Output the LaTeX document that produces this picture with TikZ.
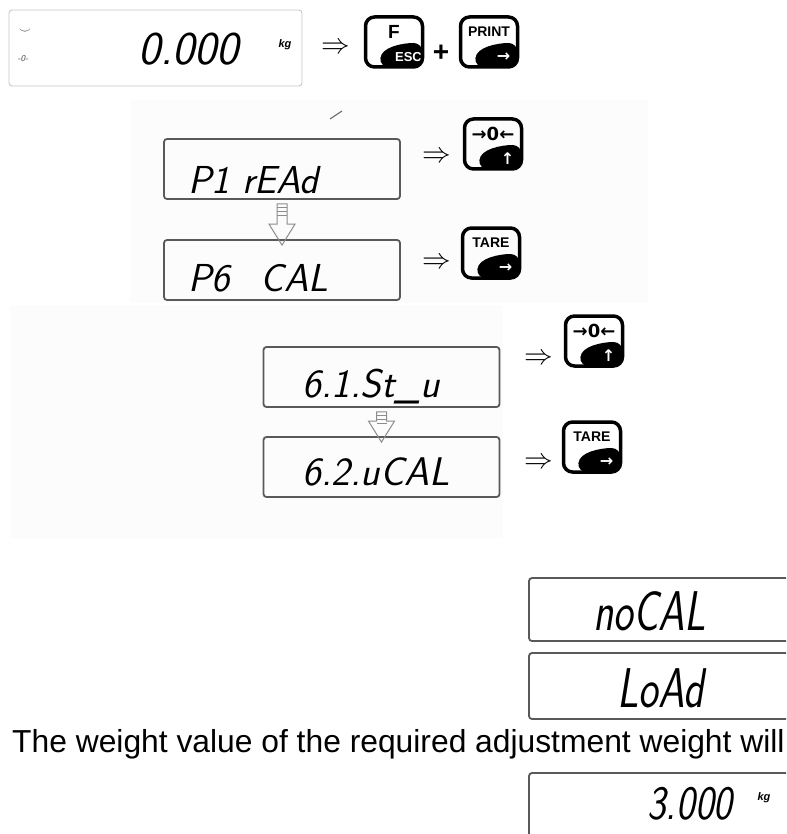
\documentclass[tikz,border=0pt]{standalone}
\usepackage{fontspec}
\usepackage{tikz}
\usetikzlibrary{positioning,calc}
\newfontfamily\keyfont{Liberation Sans}
\newfontfamily\symfont{DejaVu Sans}
\newcommand{\stepdown}[2]{%
\draw[stepline] ([shift={(-5,4)}]#1.south) -- ([shift={(-5,-15)}]#2.north) -- ([shift={(-13,-15)}]#2.north) -- ([shift={(0,6)}]#2.north) -- ([shift={(13,-15)}]#2.north) -- ([shift={(5,-15)}]#2.north) -- ([shift={(5,4)}]#1.south) -- cycle;
\foreach \s in {8,12,16} \draw[stepline] ([shift={(-5,\s)}]#1.south) -- ([shift={(5,\s)}]#1.south);
}
\begin{document}
\begin{tikzpicture}[x=1pt,y=-1pt,
display/.style={draw=black!65,line width=1.8pt,rounded corners=3pt,minimum width=236pt,minimum height=60pt,inner sep=0pt},
segtext/.style={inner sep=0pt,anchor=west,text depth=0pt,font=\sffamily\itshape\fontsize{39}{39}\selectfont},
key/.style 2 args={draw=black,line width=3.5pt,rounded corners=9pt,minimum width=57pt,minimum height=50pt,inner sep=0pt,
  path picture={
  \fill[black] ([xshift=14pt]path picture bounding box.south west) .. controls +(2,-20) and +(-20,0) .. ([yshift=24pt]path picture bounding box.south east) -- (path picture bounding box.south east) -- cycle;
  \node[inner sep=0pt,font=\keyfont\bfseries\fontsize{14}{14}\selectfont] at ([yshift=-15pt]path picture bounding box.north) {#1};
  \node[inner sep=0pt,text=white,font=\keyfont\bfseries\fontsize{13}{13}\selectfont] at ([xshift=-14pt,yshift=10pt]path picture bounding box.south east) {#2};
  }},
then/.style={font=\fontsize{28}{28}\selectfont,inner sep=0pt},
stepline/.style={draw=black!45,line width=1pt}]
\useasboundingbox (0,0) rectangle (786,834);
\clip (0,0) rectangle (786,834);
\fill[black!1] (130,100) rectangle (648,303);
\fill[black!1] (10,305) rectangle (503,538);
\draw[black!60,line width=1pt] (330,119) -- (342,111);
% start
\node[display,draw=black!22,line width=0.9pt,minimum width=293pt,minimum height=76pt] (d0) at (155.5,48) {};
\node[segtext,font=\sffamily\itshape\fontsize{47}{47}\selectfont] (t0) at (138,49) {0.000};
\node[font=\keyfont\bfseries\itshape\fontsize{11}{11}\selectfont] (kg0) at (285,45) {kg};
\node[font=\fontsize{12}{12}\selectfont] (st0) at (25,31) {$\smile$};
\node[font=\sffamily\itshape\fontsize{9}{9}\selectfont,text=black!70] (z0) at (23,59) {-0-};
\node[then] (a0) at (336,48) {\scalebox{1.15}{$\Rightarrow$}};
\node[key={\fontsize{19}{19}\selectfont F}{ESC}] (kF) at (394,42) {};
\node[font=\keyfont\bfseries\fontsize{28}{28}\selectfont] (plus) at (441,53) {+};
\node[key={PRINT}{\symfont\fontsize{16}{16}\selectfont →}] (kP) at (489,42) {};
% menu
\node[display] (p1) at (282,169) {};
\node[display] (p6) at (282,270) {};
\node[segtext] (tp1) at (188,180) {P1 rEAd};
\node[segtext] (tp6) at (188,278) {P6\hspace{31pt}CAL};
\node[then] (a1) at (437,157) {\scalebox{1.15}{$\Rightarrow$}};
\node[then] (a2) at (437,263) {\scalebox{1.15}{$\Rightarrow$}};
\node[key={\symfont\fontsize{18}{18}\selectfont →0←}{\symfont\fontsize{16}{16}\selectfont ↑}] (kZ1) at (493,144) {};
\node[key={TARE}{\symfont\fontsize{16}{16}\selectfont →}] (kT1) at (491,253) {};
\stepdown{p1}{p6}
% submenu
\node[display] (s61) at (381.5,377) {};
\node[display] (s62) at (381.5,467) {};
\node[segtext,font=\sffamily\itshape\fontsize{40}{40}\selectfont] (t61) at (302,383) {6.1.St\_u};
\node[segtext,font=\sffamily\itshape\fontsize{40}{40}\selectfont] (t62) at (302,472) {6.2.uCAL};
\node[then] (a3) at (539,359) {\scalebox{1.15}{$\Rightarrow$}};
\node[then] (a4) at (539,463) {\scalebox{1.15}{$\Rightarrow$}};
\node[key={\symfont\fontsize{18}{18}\selectfont →0←}{\symfont\fontsize{16}{16}\selectfont ↑}] (kZ2) at (594,341) {};
\node[key={TARE}{\symfont\fontsize{16}{16}\selectfont →}] (kT2) at (592,447) {};
\stepdown{s61}{s62}
% adjustment
\node[display,minimum width=280pt,minimum height=63pt] (nc) at (669,609.5) {};
\node[display,minimum width=280pt,minimum height=66pt] (ld) at (669,686) {};
\node[display,minimum width=280pt,minimum height=66pt] (w3) at (669,806) {};
\node[segtext,font=\sffamily\itshape\fontsize{56}{56}\selectfont] (tnc) at (593,611) {\scalebox{0.75}[1]{noCAL}};
\node[segtext,font=\sffamily\itshape\fontsize{56}{56}\selectfont] (tld) at (617,688) {\scalebox{0.75}[1]{LoAd}};
\node[anchor=base west,inner sep=0pt,font=\keyfont\fontsize{31.8}{31.8}\selectfont] (note) at (12,752) {The weight value of the required adjustment weight will};
\node[segtext,font=\sffamily\itshape\fontsize{48}{48}\selectfont] (t3) at (647,803) {\scalebox{0.83}[1]{3.000}};
\node[font=\keyfont\bfseries\itshape\fontsize{11}{11}\selectfont] (kg3) at (764,798) {kg};
\end{tikzpicture}
\end{document}
